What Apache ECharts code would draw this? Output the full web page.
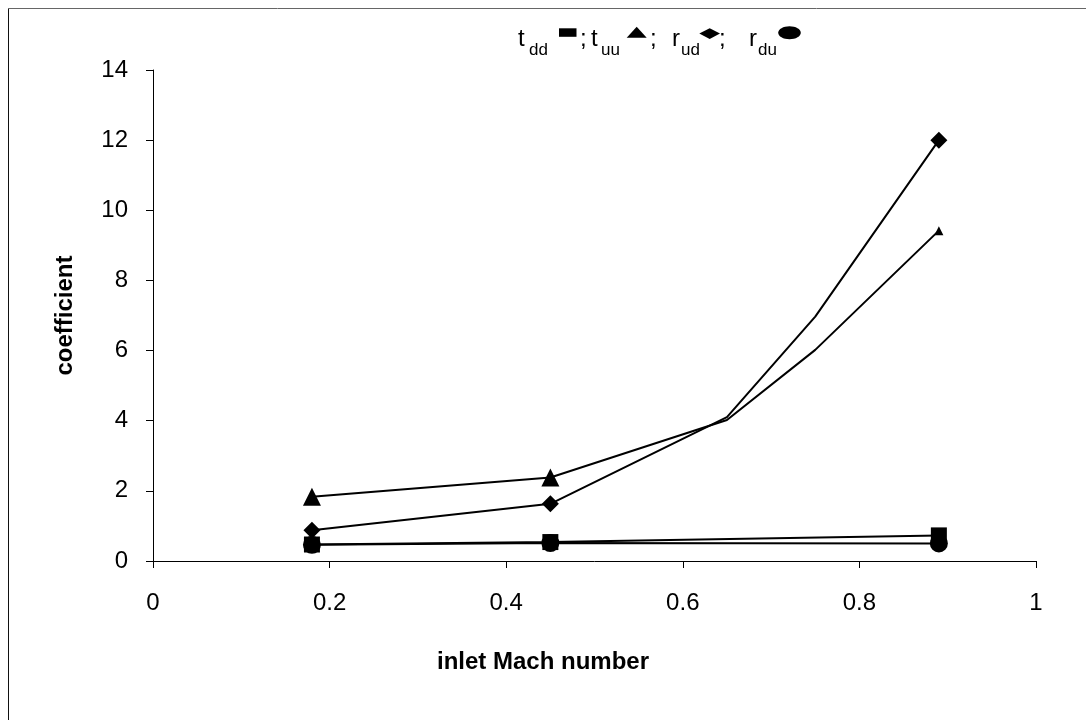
<!DOCTYPE html>
<html>
<head>
<meta charset="utf-8">
<script src="https://cdn.jsdelivr.net/npm/echarts@6/dist/echarts.min.js"></script>
<style>
  html, body { margin: 0; padding: 0; background: #fff; }
  #chart { width: 1086px; height: 720px; }
</style>
</head>
<body>
<div id="chart"></div>
<script>
// Inlet Mach number values at which the coefficients were evaluated
const machShort = [0.18, 0.45, 0.89];
const machLong = [0.18, 0.45, 0.65, 0.75, 0.89];

// Coefficient values per series
const tdd = [0.47, 0.54, 0.73];
const tuu = [1.83, 2.38, 4.02, 6.02, 9.42];
const rud = [0.88, 1.63, 4.10, 6.97, 12.0];
const rdu = [0.46, 0.51, 0.50];

// Axis settings
const xTicks = { min: 0, max: 1, interval: 0.2 };
const yTicks = { min: 0, max: 14, interval: 2 };

const FONT = 'Liberation Sans, Arial, sans-serif';

function pairs(xs, ys) {
  return xs.map((x, i) => [x, ys[i]]);
}

// Marker size per point: only some points of the longer curves carry a marker
function sizer(sizes) {
  return function (val, params) { return sizes[params.dataIndex]; };
}

// Key label helpers: main letter and its subscript
function mainText(x, str) {
  return { type: 'text', x: x, y: 39.6, silent: true,
    style: { text: str, font: '24px ' + FONT, fill: '#000', verticalAlign: 'middle' } };
}
function subText(x, str) {
  return { type: 'text', x: x, y: 50.5, silent: true,
    style: { text: str, font: '17px ' + FONT, fill: '#000', verticalAlign: 'middle' } };
}

const chart = echarts.init(document.getElementById('chart'), null, { renderer: 'canvas' });

const lineStyle = { color: '#000', width: 2 };
const itemStyle = { color: '#000', borderWidth: 0 };

const option = {
  animation: false,
  backgroundColor: '#fff',
  grid: { left: 153, right: 50, top: 70, bottom: 159, containLabel: false },
  xAxis: {
    type: 'value',
    min: xTicks.min, max: xTicks.max, interval: xTicks.interval,
    name: 'inlet Mach number',
    nameLocation: 'middle',
    nameGap: 89,
    nameTextStyle: { fontFamily: FONT, fontSize: 24, fontWeight: 'bold', color: '#000', padding: [0, 103, 0, 0] },
    axisLine: { show: true, onZero: false, lineStyle: { color: '#000', width: 1 } },
    axisTick: { show: true, inside: false, length: 7, lineStyle: { color: '#000' } },
    axisLabel: { fontFamily: FONT, fontSize: 24, color: '#000', margin: 30 },
    splitLine: { show: false }
  },
  yAxis: {
    type: 'value',
    min: yTicks.min, max: yTicks.max, interval: yTicks.interval,
    name: 'coefficient',
    nameLocation: 'middle',
    nameGap: 76,
    nameRotate: 90,
    nameTextStyle: { fontFamily: FONT, fontSize: 24, fontWeight: 'bold', color: '#000' },
    axisLine: { show: true, lineStyle: { color: '#000', width: 1 } },
    axisTick: { show: true, inside: false, length: 7, lineStyle: { color: '#000' } },
    axisLabel: { fontFamily: FONT, fontSize: 24, color: '#000', margin: 25 },
    splitLine: { show: false }
  },
  series: [
    {
      name: 'rdu', type: 'line', data: pairs(machShort, rdu),
      symbol: 'circle', symbolSize: 18, showAllSymbol: true,
      lineStyle, itemStyle, z: 2
    },
    {
      name: 'tdd', type: 'line', data: pairs(machShort, tdd),
      symbol: 'rect', symbolSize: 16, showAllSymbol: true,
      lineStyle, itemStyle, z: 3
    },
    {
      name: 'rud', type: 'line', data: pairs(machLong, rud),
      symbol: 'diamond', symbolSize: sizer([17, 17, 0, 0, 17]), showAllSymbol: true,
      lineStyle, itemStyle, z: 4
    },
    {
      name: 'tuu', type: 'line', data: pairs(machLong, tuu),
      symbol: 'triangle', symbolSize: sizer([18, 18, 0, 0, 9]), showAllSymbol: true,
      lineStyle, itemStyle, z: 5
    }
  ],
  graphic: [
    // outer frame (left and top edges visible)
    { type: 'line', shape: { x1: 8.5, y1: 8, x2: 8.5, y2: 720 }, style: { stroke: '#111', lineWidth: 1 }, silent: true },
    { type: 'line', shape: { x1: 8, y1: 8.5, x2: 1086, y2: 8.5 }, style: { stroke: '#666', lineWidth: 1 }, silent: true },

    // key: labels with subscripts followed by their marker
    mainText(518, 't'), subText(529, 'dd'),
    { type: 'rect', silent: true, shape: { x: 559, y: 28.3, width: 17.5, height: 8.5 }, style: { fill: '#000' } },

    mainText(580, ';'), mainText(591, 't'), subText(601, 'uu'),
    { type: 'polygon', silent: true, shape: { points: [[626.7, 37.7], [636.7, 26.7], [646.7, 37.7]] }, style: { fill: '#000' } },

    mainText(650, ';'), mainText(672, 'r'), subText(681, 'ud'),
    { type: 'polygon', silent: true, shape: { points: [[699.3, 33.5], [709.7, 28.3], [720, 33.5], [709.7, 39]] }, style: { fill: '#000' } },

    mainText(719, ';'), mainText(749, 'r'), subText(758, 'du'),
    { type: 'ellipse', silent: true, shape: { cx: 789.5, cy: 32.7, rx: 11.3, ry: 6.5 }, style: { fill: '#000' } }
  ]
};

chart.setOption(option);
</script>
</body>
</html>
